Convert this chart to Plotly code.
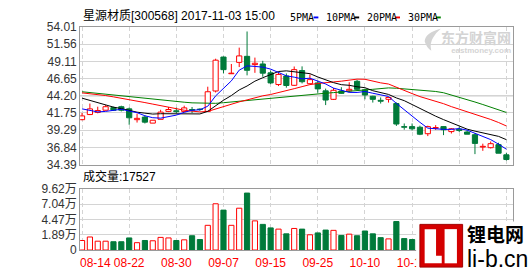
import plotly.graph_objects as go

# ---------------- data ----------------
dates = ["08-14","08-15","08-16","08-17","08-18","08-21","08-22","08-23","08-24","08-25",
         "08-28","08-29","08-30","08-31","09-01","09-04","09-05","09-06","09-07","09-08",
         "09-11","09-12","09-13","09-14","09-15","09-18","09-19","09-20","09-21","09-22",
         "09-25","09-26","09-27","09-28","09-29","10-09","10-10","10-11","10-12","10-13",
         "10-16","10-17","10-18","10-19","10-20","10-23","10-24","10-25","10-26","10-27",
         "10-30","10-31","11-01","11-02","11-03"]

opens = [40.79,41.52,41.83,42.14,42.51,42.64,42.33,40.79,41.16,40.30,
         40.84,41.97,42.06,41.97,42.24,42.30,41.97,44.88,49.72,47.34,
         48.96,49.82,48.64,48.73,47.47,45.80,47.01,45.69,47.79,45.92,
         46.03,44.90,43.69,44.88,44.90,46.26,45.04,44.13,43.55,43.69,
         43.09,39.80,39.80,39.71,38.79,39.57,39.80,39.09,39.44,39.03,
         38.65,36.89,36.80,37.23,35.78]
highs = [41.74,43.09,42.64,42.87,42.64,42.78,42.51,41.66,41.39,40.71,
         42.20,42.60,42.51,42.78,42.60,42.40,45.49,49.48,49.80,48.73,
         51.06,53.36,49.64,49.18,47.79,47.47,47.38,48.37,48.39,47.24,
         46.36,45.22,45.31,45.42,46.12,46.47,45.22,44.20,43.96,43.96,
         43.25,40.25,40.25,39.94,39.94,40.01,39.85,39.60,39.80,39.26,
         38.86,37.37,37.68,37.50,36.08]
lows = [40.71,41.45,41.70,42.10,42.06,41.97,40.07,40.38,40.25,40.30,
        40.84,41.87,41.74,41.90,41.74,42.05,41.90,44.67,47.38,47.30,
        48.29,47.11,47.47,46.91,45.85,45.58,45.35,45.60,45.96,45.90,
        44.63,42.87,43.60,44.47,44.67,44.90,43.69,43.23,43.09,43.23,
        39.90,39.36,39.26,38.59,38.45,39.33,38.59,38.82,39.03,38.70,
        35.88,36.35,36.69,36.00,34.97]
closes = [41.33,42.33,42.10,42.64,42.14,42.14,41.06,40.98,40.44,40.71,
          41.87,42.24,41.93,42.47,42.14,42.24,44.77,49.27,47.92,47.42,
          49.88,47.83,48.83,47.42,46.03,47.24,45.66,47.92,46.20,46.50,
          45.18,43.59,44.98,44.54,45.12,45.12,44.31,43.69,43.42,43.96,
          40.17,39.71,39.49,38.72,39.80,39.67,39.36,39.49,39.26,38.72,
          37.41,36.99,37.37,36.01,35.11]

ma5 = [42.33,42.14,41.90,41.97,42.11,42.27,42.02,41.79,41.35,41.07,
       41.01,41.25,41.44,41.84,42.13,42.20,42.71,44.18,45.27,46.32,
       47.85,48.46,48.38,48.28,48.00,47.47,47.04,46.85,46.61,46.70,
       46.29,45.88,45.29,44.96,44.68,44.67,44.81,44.56,44.33,44.10,
       43.11,42.19,41.35,40.41,39.58,39.48,39.41,39.41,39.52,39.30,
       38.85,38.37,37.95,37.30,36.58]
ma10 = [43.86,43.55,43.19,42.87,42.58,42.37,42.10,41.86,41.72,41.59,
        41.64,41.63,41.62,41.60,41.60,41.61,41.98,42.81,43.56,44.23,
        45.03,45.59,46.28,46.77,47.16,47.66,47.75,47.62,47.44,47.35,
        46.88,46.46,46.07,45.78,45.69,45.48,45.35,44.92,44.65,44.39,
        43.89,43.50,42.95,42.37,41.84,41.29,40.80,40.38,39.96,39.44,
        39.16,38.89,38.68,38.41,37.94]
ma20 = [44.61,44.50,44.40,44.23,44.04,43.86,43.69,43.46,43.23,43.01,
        42.78,42.58,42.33,42.14,42.01,41.90,41.97,42.32,42.62,42.91,
        43.33,43.61,43.95,44.19,44.38,44.63,44.86,45.21,45.50,45.79,
        45.95,46.02,46.17,46.28,46.43,46.57,46.55,46.27,46.04,45.87,
        45.39,44.98,44.51,44.08,43.77,43.39,43.07,42.65,42.30,41.92,
        41.53,41.20,40.82,40.39,39.89]
ma30 = [44.77,44.65,44.54,44.44,44.34,44.23,44.13,44.00,43.86,43.73,
        43.59,43.50,43.39,43.28,43.19,43.14,43.12,43.12,43.21,43.32,
        43.43,43.55,43.66,43.75,43.86,43.97,44.09,44.20,44.28,44.39,
        44.52,44.56,44.65,44.72,44.82,44.92,45.03,45.12,45.21,45.32,
        45.27,45.18,45.10,44.98,44.90,44.81,44.63,44.31,44.02,43.73,
        43.31,42.95,42.57,42.19,41.82]

# volume in 万 (10k lots), on the chart's own volume scale
volumes = [0.92,1.51,0.80,0.80,0.71,0.71,1.35,0.55,0.92,0.87,
           1.44,1.35,0.92,1.03,1.72,1.08,3.48,7.12,6.05,3.48,
           6.37,8.93,4.23,3.64,3.05,2.84,2.04,2.95,2.84,1.88,
           2.20,2.68,2.63,1.77,1.99,1.72,2.52,2.04,1.40,1.19,
           4.12,1.24,1.08,1.50,1.60,1.10,1.20,1.00,0.95,1.05,
           2.60,1.40,1.30,2.10,1.75]

price_ticks = [34.39, 36.84, 39.29, 41.75, 44.20, 46.65, 49.11, 51.56, 54.01]
vol_ticks = [-0.69, 1.89, 4.47, 7.04, 9.62]
vol_tick_text = ["0", "1.89万", "4.47万", "7.04万", "9.62万"]
title_text = "星源材质[300568] 2017-11-03 15:00"
last_volume = 17527
ma_names = ["5PMA", "10PMA", "20PMA", "30PMA"]
# date labels that the reference hides under its logo
hidden_labels = {"10-26", "11-03"}

# ---------------- styles ----------------
RED = "#ff0000"
GREEN = "#007a3a"
MA_COLORS = ["#0000ff", "#000000", "#ff0000", "#008000"]
GRID = "#d4d4d4"
BORDER = "#9a9a9a"
WM = "#d4d4d4"
W, H = 530, 276
X0, X1 = 56, 512
BODY_W = 0.66

n = len(dates)
idx = list(range(n))
up = [c >= o for o, c in zip(opens, closes)]

fig = go.Figure()

# candle bodies
fig.add_trace(go.Bar(
    x=idx,
    y=[max(abs(c - o), 0.03) for o, c in zip(opens, closes)],
    base=[min(o, c) for o, c in zip(opens, closes)],
    width=BODY_W,
    marker=dict(color=["#ffffff" if u else GREEN for u in up],
                line=dict(color=[RED if u else GREEN for u in up], width=1)),
    xaxis="x", yaxis="y", hoverinfo="skip"))

# wicks
for flag, col in ((True, RED), (False, GREEN)):
    wx, wy = [], []
    for i in idx:
        if up[i] != flag:
            continue
        top = max(opens[i], closes[i]); bot = min(opens[i], closes[i])
        wx += [i, i, None, i, i, None]
        wy += [highs[i], top, None, bot, lows[i], None]
    fig.add_trace(go.Scatter(x=wx, y=wy, mode="lines", line=dict(color=col, width=1),
                             xaxis="x", yaxis="y", hoverinfo="skip"))

# moving averages
for ser, col in zip((ma30, ma20, ma10, ma5), MA_COLORS[::-1]):
    fig.add_trace(go.Scatter(x=idx, y=ser, mode="lines", line=dict(color=col, width=1),
                             xaxis="x", yaxis="y", hoverinfo="skip"))

# volume
fig.add_trace(go.Bar(
    x=idx, y=[v - vol_ticks[0] for v in volumes], base=vol_ticks[0], width=BODY_W,
    marker=dict(color=["#ffffff" if u else GREEN for u in up],
                line=dict(color=[RED if u else GREEN for u in up], width=1)),
    xaxis="x2", yaxis="y2", hoverinfo="skip"))

px = lambda x: x / W
py = lambda y: 1 - y / H

tick_idx = idx[::6]
tick_txt = ["" if dates[i] in hidden_labels else dates[i] for i in tick_idx]
tick_txt[0] = "\u00a0" * 8 + tick_txt[0]

xcommon = dict(domain=[px(X0), px(X1)], range=[-0.24, n - 0.17], tickvals=tick_idx,
               showgrid=True, gridcolor=GRID, griddash="4px,3px", gridwidth=1,
               showline=True, linecolor=BORDER, mirror=True, zeroline=False, ticks="")
fig.update_layout(
    width=W, height=H, margin=dict(l=0, r=0, t=0, b=0),
    paper_bgcolor="white", plot_bgcolor="white", showlegend=False, barmode="overlay",
    xaxis=dict(**xcommon, anchor="y", showticklabels=False),
    xaxis2=dict(**xcommon, anchor="y2", matches="x", ticktext=tick_txt, showticklabels=True,
                tickangle=0, ticklabelstandoff=2,
                tickfont=dict(family="Liberation Sans", size=12, color=RED)),
    yaxis=dict(domain=[py(166), py(21)], range=[price_ticks[0], price_ticks[-1]],
               tickvals=price_ticks, ticktext=[f"{v:.2f}" for v in price_ticks],
               showgrid=True, gridcolor=GRID, showline=True, linecolor=BORDER, mirror=True,
               zeroline=False, ticks="", tickfont=dict(family="Liberation Sans", size=12, color="#333333")),
    yaxis2=dict(domain=[py(256), py(191.7)], range=[vol_ticks[0], vol_ticks[-1]],
                tickvals=vol_ticks, ticktext=vol_tick_text,
                showgrid=True, gridcolor=GRID, showline=True, linecolor=BORDER, mirror=True,
                zeroline=False, ticks="",
                tickfont=dict(family="Liberation Sans, Noto Sans CJK SC", size=12, color="#333333")),
)

shapes = [
    # darker middle line of price panel
    dict(type="line", xref="x domain", yref="y", x0=0, x1=1, y0=price_ticks[4], y1=price_ticks[4],
         line=dict(color="#9a9a9a", width=1), layer="below"),
    # watermark swirl
    dict(type="path", xref="paper", yref="paper", fillcolor=WM, line=dict(width=0), layer="below",
         path=f"M {px(436)} {py(23)} Q {px(420)} {py(27)} {px(419)} {py(36)} "
              f"Q {px(421)} {py(43)} {px(426)} {py(46)} Q {px(424)} {py(38)} {px(428)} {py(32)} "
              f"Q {px(431)} {py(27)} {px(436)} {py(23)} Z"),
]
# legend dashes
leg_x = [275, 313, 356, 399]
dash_x = [302, 345, 388, 431]
anns = [
    dict(text=title_text, x=px(57), y=py(10), xref="paper", yref="paper", xanchor="left",
         yanchor="middle", showarrow=False,
         font=dict(family="Liberation Sans, Noto Sans CJK SC", size=12, color="#000000")),
    dict(text=f"成交量:{last_volume}", x=px(57), y=py(179), xref="paper", yref="paper",
         xanchor="left", yanchor="middle", showarrow=False,
         font=dict(family="Liberation Sans, Noto Sans CJK SC", size=12, color="#000000")),
    dict(text="<span style='font-size:14px'><b>东方财富网</b></span><br><b>eastmoney.com</b>",
         x=px(512), y=py(22), xref="paper", yref="paper", xanchor="right", yanchor="top",
         align="right", showarrow=False,
         font=dict(family="Liberation Sans, Noto Sans CJK SC", size=8, color=WM)),
]
for name, lx, dx, col in zip(ma_names, leg_x, dash_x, MA_COLORS):
    anns.append(dict(text=name, x=px(lx), y=py(11), xref="paper", yref="paper", xanchor="left",
                     yanchor="middle", showarrow=False,
                     font=dict(family="DejaVu Sans Mono", size=10, color="#000000")))
    shapes.append(dict(type="rect", xref="paper", yref="paper", x0=px(dx), x1=px(dx + 5),
                       y0=py(12), y1=py(10), fillcolor=col, line=dict(width=0)))

# logo (li-b.cn) in the bottom right corner
shapes += [
    dict(type="rect", xref="paper", yref="paper", x0=px(410), x1=px(530), y0=py(276), y1=py(226),
         fillcolor="white", line=dict(width=0), layer="above"),
    dict(type="rect", xref="paper", yref="paper", x0=px(414), x1=px(459), y0=py(274), y1=py(229),
         fillcolor="#d40000", line=dict(color="#a00000", width=1), layer="above"),
    # white "L"
    dict(type="path", xref="paper", yref="paper", layer="above", fillcolor="white", line=dict(width=0),
         path=f"M {px(419)} {py(234)} L {px(431)} {py(234)} L {px(431)} {py(262)} L {px(437)} {py(262)} "
              f"L {px(437)} {py(270)} L {px(419)} {py(270)} Z"),
    # white "I"
    dict(type="rect", xref="paper", yref="paper", x0=px(440), x1=px(453), y0=py(270), y1=py(234),
         fillcolor="white", line=dict(width=0), layer="above"),
]
anns.append(
    dict(text="<b>锂电网</b><br><span style='font-family:Liberation Sans;font-size:23px'>li-b.cn</span>",
         x=px(463), y=py(252), xref="paper", yref="paper", xanchor="left", yanchor="middle",
         align="left", showarrow=False, borderpad=0,
         font=dict(family="Noto Sans CJK SC", size=19, color="#000000")))
fig.update_layout(shapes=shapes, annotations=anns)
fig.write_html("out.html")
